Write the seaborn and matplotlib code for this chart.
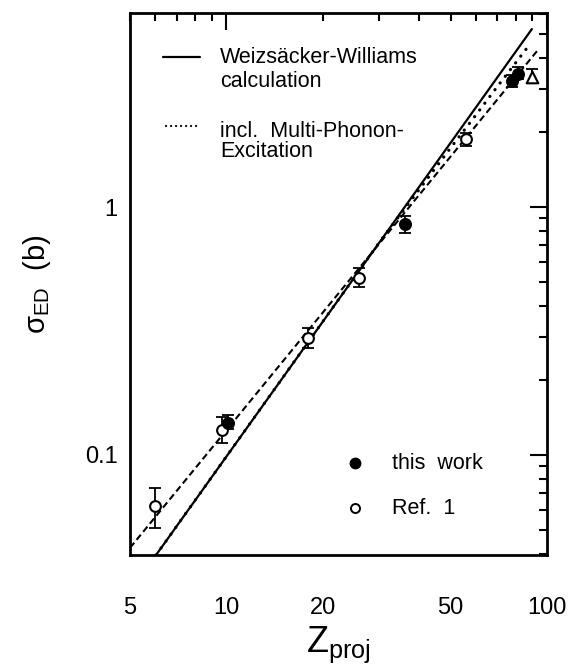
import matplotlib
matplotlib.use("Agg")
import matplotlib.pyplot as plt
import seaborn as sns
import pandas as pd
from matplotlib.ticker import FixedLocator, FuncFormatter
from matplotlib.lines import Line2D

sns.set_style("white")
plt.rcParams["font.family"] = ["Liberation Sans", "DejaVu Sans"]
plt.rcParams["mathtext.fontset"] = "custom"
plt.rcParams["mathtext.rm"] = "Liberation Sans"
plt.rcParams["mathtext.it"] = "Liberation Sans"
plt.rcParams["text.color"] = "black"
plt.rcParams["axes.labelcolor"] = "black"
plt.rcParams["xtick.color"] = "black"
plt.rcParams["ytick.color"] = "black"

# Electromagnetic dissociation cross sections, this work
z_this = [10.1, 36, 78, 81]
sig_this = [0.135, 0.854, 3.22, 3.45]
sig_this_lo = [0.127, 0.785, 3.05, 3.28]
sig_this_hi = [0.145, 0.92, 3.40, 3.67]

# Ref. 1
z_ref = [6, 9.7, 18, 26, 56]
sig_ref = [0.0623, 0.126, 0.296, 0.517, 1.88]
sig_ref_lo = [0.0508, 0.112, 0.27, 0.476, 1.76]
sig_ref_hi = [0.0736, 0.142, 0.325, 0.567, 1.99]

# open triangle
z_tri = [90]
sig_tri = [3.34]
sig_tri_lo = [3.16]
sig_tri_hi = [3.60]

# Weizsaecker-Williams calculation
z_ww = [6.03, 89.7]
sig_ww = [0.0395, 5.22]

# including multi-phonon excitation
z_mp = [6.03, 20, 30, 40, 50, 60, 70, 80, 88.5]
sig_mp = [0.0395, 0.346, 0.721, 1.18, 1.73, 2.35, 3.06, 3.83, 4.54]

# dashed power-law line
z_fit = [5, 93.7]
sig_fit = [0.0422, 4.30]

x_labels = {5: "5", 10: "10", 20: "20", 50: "50", 100: "100"}
y_labels = {0.1: "0.1", 1: "1"}

DOTS = (0, (0.05, 2.6))

fig = plt.figure(figsize=(5.71, 6.64), dpi=100)
ax = fig.add_axes([130 / 571, 1 - 555 / 664, 417 / 571, 542 / 664])
ax.set_xscale("log")
ax.set_yscale("log")
ax.set_xlim(5, 100)
ax.set_ylim(0.0395, 6.06)

sns.lineplot(x=z_ww, y=sig_ww, ax=ax, color="black", lw=1.6,
             estimator=None, sort=False, zorder=2)
sns.lineplot(x=z_mp, y=sig_mp, ax=ax, color="black", lw=2.3,
             linestyle=DOTS, dash_capstyle="round",
             estimator=None, sort=False, zorder=2)
sns.lineplot(x=z_fit, y=sig_fit, ax=ax, color="black", lw=1.5,
             linestyle=(0, (3.2, 1.8)), estimator=None, sort=False, zorder=2)

def bars(z, s, lo, hi):
    yerr = [[a - b for a, b in zip(s, lo)], [b - a for a, b in zip(s, hi)]]
    ax.errorbar(z, s, yerr=yerr, fmt="none", ecolor="black", elinewidth=1.3,
                capsize=4, capthick=1.3, zorder=3)

bars(z_ref, sig_ref, sig_ref_lo, sig_ref_hi)
bars(z_this, sig_this, sig_this_lo, sig_this_hi)
bars(z_tri, sig_tri, sig_tri_lo, sig_tri_hi)

sns.scatterplot(x=z_ref, y=sig_ref, ax=ax, marker="o", s=60, facecolor="white",
                edgecolor="black", linewidth=1.5, zorder=4)
sns.scatterplot(x=z_this, y=sig_this, ax=ax, marker="o", s=70, color="black",
                edgecolor="black", linewidth=1.0, zorder=5)
sns.scatterplot(x=z_tri, y=sig_tri, ax=ax, marker="^", s=70, facecolor="white",
                edgecolor="black", linewidth=1.5, zorder=4)

# ticks
ax.xaxis.set_major_locator(FixedLocator([10, 100]))
ax.xaxis.set_minor_locator(FixedLocator([5, 6, 7, 8, 9, 20, 30, 40, 50, 60, 70, 80, 90]))
fmt_x = FuncFormatter(lambda v, p: x_labels.get(int(round(v)), ""))
ax.xaxis.set_major_formatter(fmt_x)
ax.xaxis.set_minor_formatter(fmt_x)
ax.yaxis.set_major_locator(FixedLocator([0.1, 1]))
ax.yaxis.set_minor_locator(FixedLocator([0.04, 0.05, 0.06, 0.07, 0.08, 0.09,
                                         0.2, 0.3, 0.4, 0.5, 0.6, 0.7, 0.8, 0.9,
                                         2, 3, 4, 5, 6]))
ax.yaxis.set_major_formatter(FuncFormatter(lambda v, p: y_labels.get(round(v, 3), "")))
ax.yaxis.set_minor_formatter(FuncFormatter(lambda v, p: ""))

ax.tick_params(which="both", direction="in", top=True, right=True, color="black",
               width=1.5, labelsize=17, labelcolor="black")
ax.tick_params(which="major", length=12)
ax.tick_params(which="minor", length=6)
ax.tick_params(axis="x", which="both", pad=30)
ax.tick_params(axis="y", which="both", pad=9)

for sp in ax.spines.values():
    sp.set_visible(True)
    sp.set_color("black")
    sp.set_linewidth(2.0)

ax.set_xlabel(r"Z$_{\rm proj}$", fontsize=26, color="black")
ax.xaxis.set_label_coords(0.5, -0.128)
ax.xaxis.label.set_va("top")
ax.set_ylabel(r"σ$_{\rm ED}$  (b)", fontsize=21, color="black")
ax.yaxis.set_label_coords(-0.223, 0.5)
ax.yaxis.label.set_va("center")

# upper key
def ax_px(px, py):
    return (px - 130) / 417, (555 - py) / 542

x0, y0 = ax_px(163, 57)
x1, _ = ax_px(200, 57)
ax.add_line(Line2D([x0, x1], [y0, y0], transform=ax.transAxes, color="black", lw=1.6))
x0, y0 = ax_px(166, 126)
ax.add_line(Line2D([x0, x1], [y0, y0], transform=ax.transAxes, color="black", lw=1.6,
                   linestyle=(0, (0.05, 2.2)), dash_capstyle="round"))
tx, _ = ax_px(220, 0)
for text, py in [("Weizsäcker-Williams", 63), ("calculation", 87),
                 ("incl.  Multi-Phonon-", 137), ("Excitation", 157)]:
    ax.text(tx, ax_px(0, py)[1], text, transform=ax.transAxes, fontsize=15.5,
            va="baseline", ha="left", color="black")

# lower key
mx, my = ax_px(355, 463)
ax.plot([mx], [my], "o", transform=ax.transAxes, ms=7.5, color="black")
mx, my = ax_px(355, 508)
ax.plot([mx], [my], "o", transform=ax.transAxes, ms=6.5, mfc="white", mec="black", mew=1.4)
tx, _ = ax_px(392, 0)
ax.text(tx, ax_px(0, 469)[1], "this  work", transform=ax.transAxes, fontsize=15.5,
        va="baseline", color="black")
ax.text(tx, ax_px(0, 514)[1], "Ref.  1", transform=ax.transAxes, fontsize=15.5,
        va="baseline", color="black")

fig.savefig("out.png", dpi=100)
